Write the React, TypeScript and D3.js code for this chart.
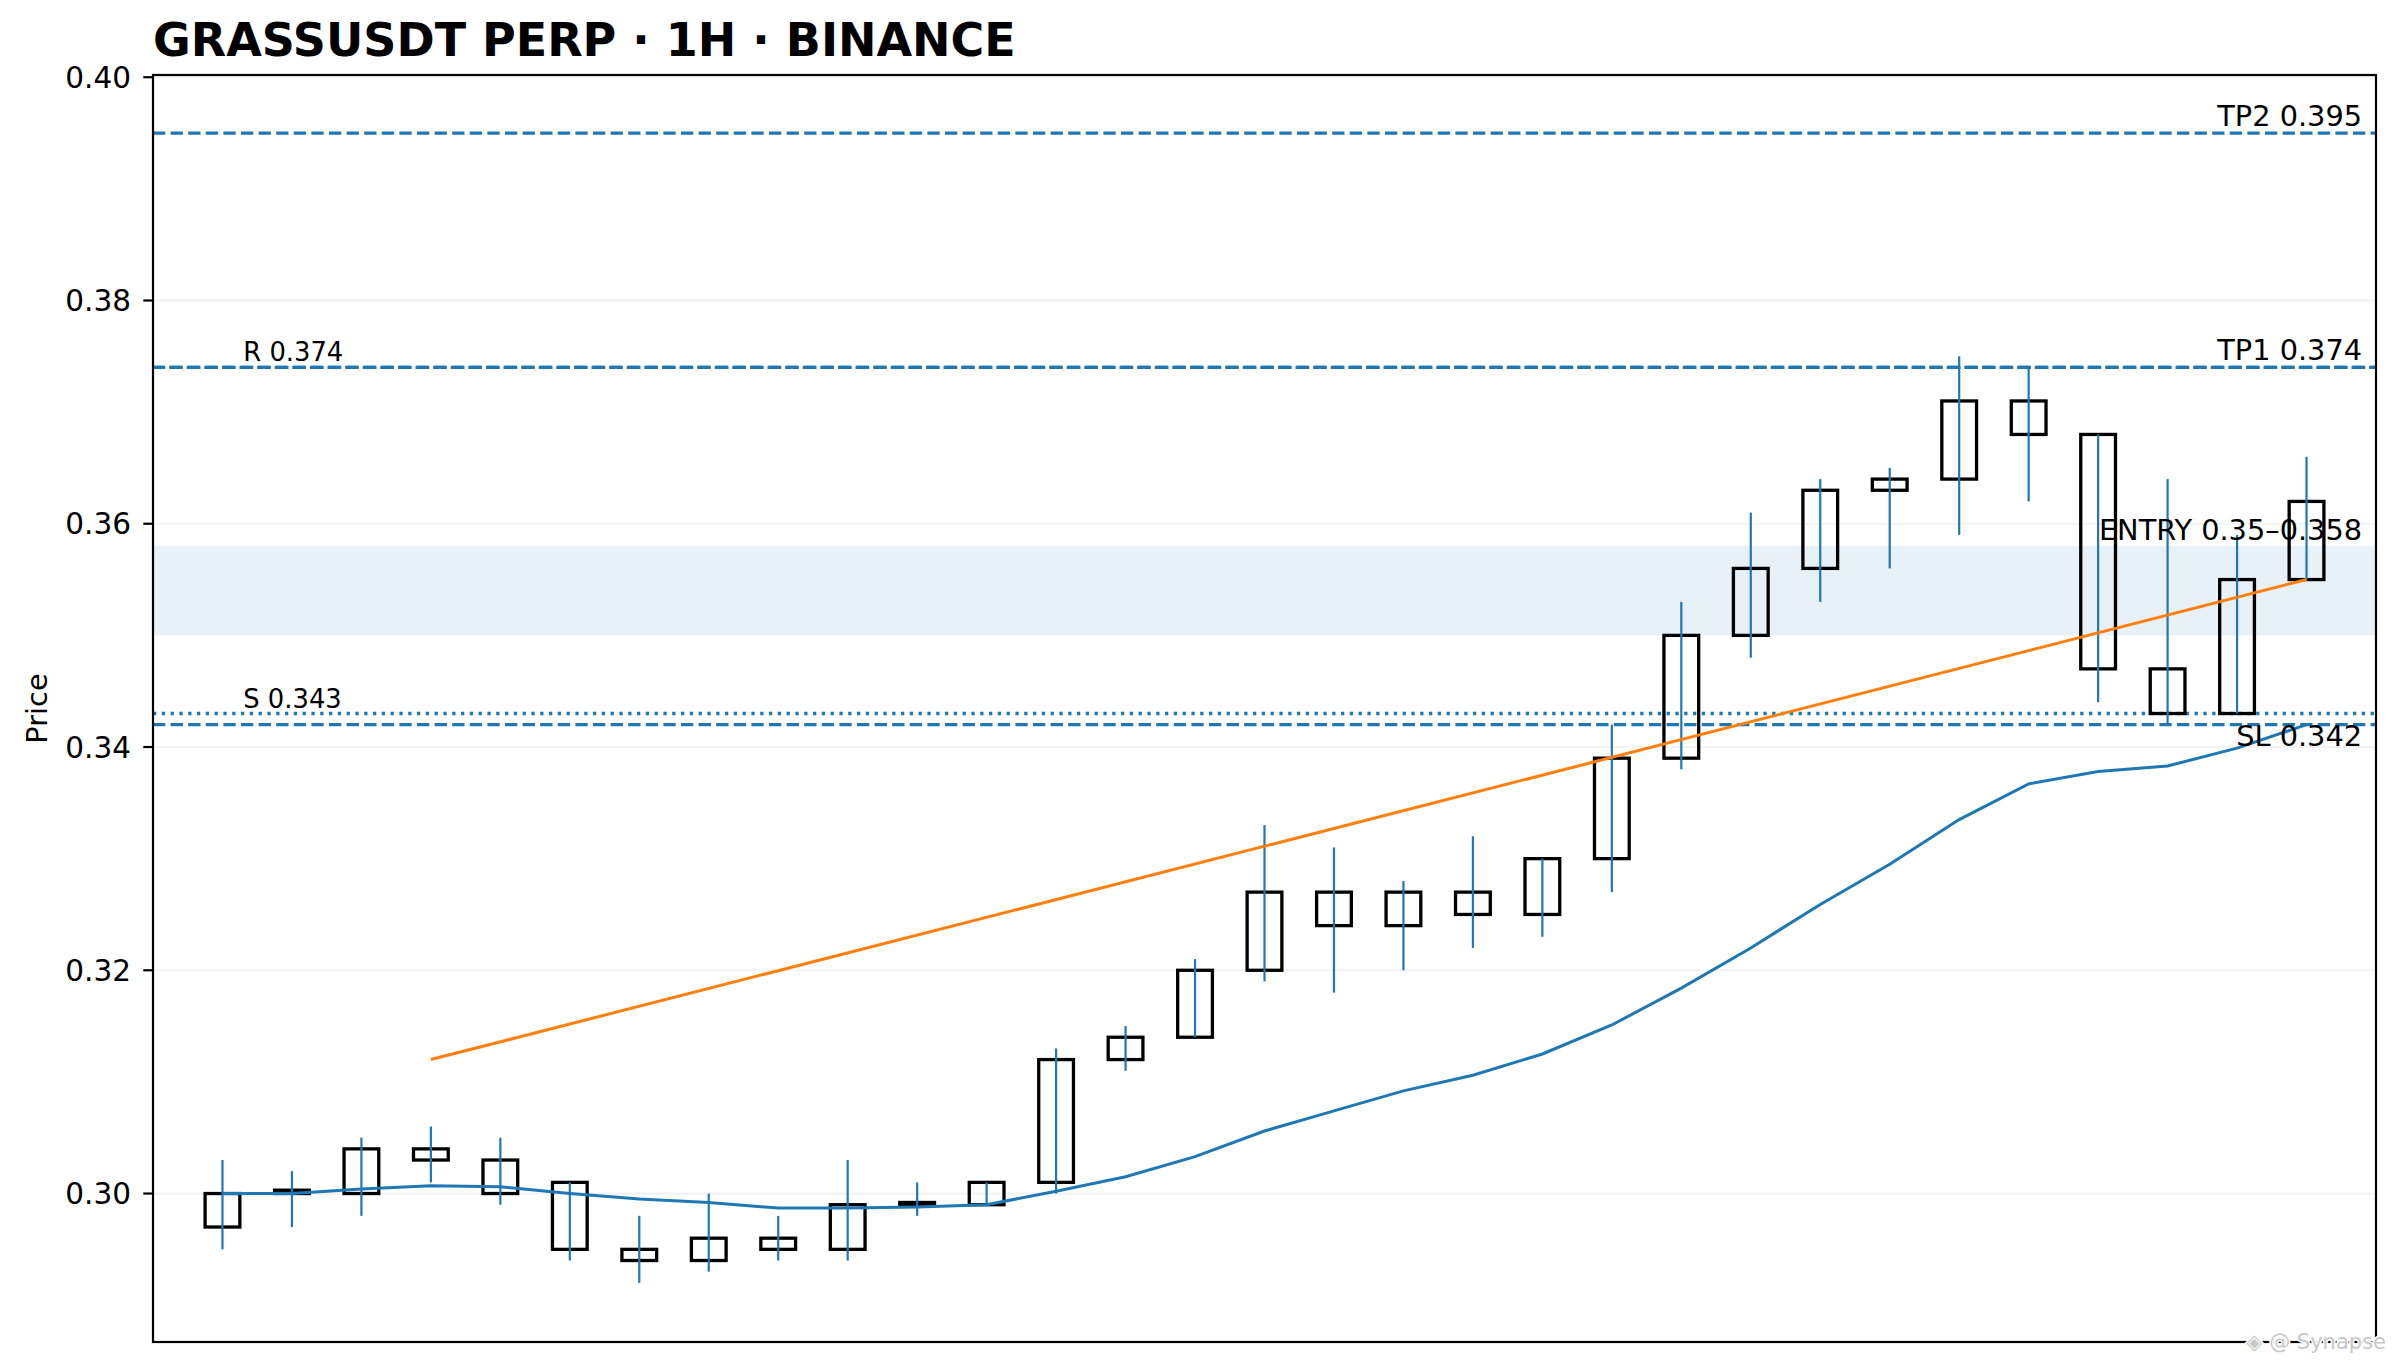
import React, { useEffect } from "react";
import * as d3 from "d3";

// candles, 1H
const opens = [0.297, 0.3, 0.3, 0.304, 0.303, 0.301, 0.295, 0.294, 0.296, 0.295, 0.299, 0.299, 0.301, 0.312, 0.314, 0.32, 0.327, 0.324, 0.327, 0.325, 0.33, 0.339, 0.35, 0.356, 0.363, 0.364, 0.371, 0.368, 0.347, 0.343, 0.355];
const highs = [0.303, 0.302, 0.305, 0.306, 0.305, 0.301, 0.298, 0.3, 0.298, 0.303, 0.301, 0.301, 0.313, 0.315, 0.321, 0.333, 0.331, 0.328, 0.332, 0.33, 0.342, 0.353, 0.361, 0.364, 0.365, 0.375, 0.374, 0.368, 0.364, 0.359, 0.366];
const lows = [0.295, 0.297, 0.298, 0.301, 0.299, 0.294, 0.292, 0.293, 0.294, 0.294, 0.298, 0.299, 0.3, 0.311, 0.314, 0.319, 0.318, 0.32, 0.322, 0.323, 0.327, 0.338, 0.348, 0.353, 0.356, 0.359, 0.362, 0.344, 0.342, 0.343, 0.355];
const closes = [0.3, 0.3003, 0.304, 0.303, 0.3, 0.295, 0.294, 0.296, 0.295, 0.299, 0.2992, 0.301, 0.312, 0.314, 0.32, 0.327, 0.324, 0.327, 0.325, 0.33, 0.339, 0.35, 0.356, 0.363, 0.364, 0.371, 0.368, 0.347, 0.343, 0.355, 0.362];

// moving average (blue)
const maValues = [0.3, 0.3, 0.3004, 0.3007, 0.3006, 0.3, 0.2995, 0.2992, 0.2987, 0.2987, 0.2988, 0.299, 0.3002, 0.3015, 0.3033, 0.3056, 0.3074, 0.3092, 0.3106, 0.3125, 0.3151, 0.3184, 0.322, 0.3259, 0.3295, 0.3335, 0.3367, 0.3378, 0.3383, 0.3399, 0.342];

// trend line (orange): [index, price]
const trendPoints: [number, number][] = [
  [3, 0.312],
  [30, 0.355],
];

// levels
const tp2 = 0.395;
const tp1 = 0.374;
const resistance = 0.374;
const support = 0.343;
const stopLoss = 0.342;
const entryZone = [0.35, 0.358];

const yTicks = [0.3, 0.32, 0.34, 0.36, 0.38, 0.4];
const yLimits = [0.2867, 0.4002];
const xLimits = [-1, 31];

const W = 2397;
const H = 1364;
const margin = { top: 75, right: 21, bottom: 22, left: 153 };
const FONT = "DejaVu Sans, sans-serif";
const BLUE = "#1f77b4";
const ORANGE = "#ff7f0e";
const DASH = "12.3 5.3";
const DOT = "3.3 5.5";

export default function App() {
  useEffect(() => {
    document.body.style.margin = "0";
  }, []);

  const x0 = margin.left;
  const x1 = W - margin.right;
  const y0 = margin.top;
  const y1 = H - margin.bottom;

  const x = d3.scaleLinear().domain(xLimits).range([x0, x1]);
  const y = d3.scaleLinear().domain(yLimits).range([y1, y0]);

  const bodyW = x(0.5) - x(0);
  const idx = opens.map((_, i) => i);

  const maLine = d3
    .line<number>()
    .x((_, i) => x(i))
    .y((d) => y(d));
  const trendLine = d3
    .line<[number, number]>()
    .x((d) => x(d[0]))
    .y((d) => y(d[1]));

  const hline = (v: number, dash: string, offset = 0) => (
    <line
      x1={x0}
      x2={x1}
      y1={y(v)}
      y2={y(v)}
      stroke={BLUE}
      strokeWidth={3.3}
      strokeDasharray={dash}
      strokeDashoffset={offset}
    />
  );

  return (
    <svg
      width={W}
      height={H}
      style={{ position: "absolute", left: 0, top: 0, background: "#fff" }}
      fontFamily={FONT}
    >
      <rect width={W} height={H} fill="#fff" />
      <defs>
        <clipPath id="plot">
          <rect x={x0} y={y0} width={x1 - x0} height={y1 - y0} />
        </clipPath>
      </defs>

      {/* grid */}
      {yTicks.map((t) => (
        <line key={t} x1={x0} x2={x1} y1={y(t)} y2={y(t)} stroke="#b0b0b0" strokeOpacity={0.15} strokeWidth={2.2} />
      ))}

      <g clipPath="url(#plot)">
        {/* entry zone */}
        <rect
          x={x0}
          width={x1 - x0}
          y={y(entryZone[1])}
          height={y(entryZone[0]) - y(entryZone[1])}
          fill={BLUE}
          fillOpacity={0.1}
        />

        {hline(tp2, DASH)}
        {hline(tp1, DASH)}
        {hline(resistance, DASH, 1.5)}
        {hline(support, DOT)}
        {hline(stopLoss, DASH)}

        {/* bodies */}
        {idx.map((i) => {
          const top = Math.max(opens[i], closes[i]);
          const bot = Math.min(opens[i], closes[i]);
          return (
            <rect
              key={"b" + i}
              x={x(i) - bodyW / 2}
              y={y(top)}
              width={bodyW}
              height={Math.max(y(bot) - y(top), 0.5)}
              fill="none"
              stroke="#000"
              strokeWidth={3.3}
            />
          );
        })}
        {/* wicks */}
        {idx.map((i) => (
          <line key={"w" + i} x1={x(i)} x2={x(i)} y1={y(highs[i])} y2={y(lows[i])} stroke={BLUE} strokeWidth={2.2} />
        ))}

        <path d={maLine(maValues) ?? ""} fill="none" stroke={BLUE} strokeWidth={3} />
        <path d={trendLine(trendPoints) ?? ""} fill="none" stroke={ORANGE} strokeWidth={3} />
      </g>

      {/* level labels */}
      <g fontSize={28.8} fill="#000">
        <text x={x(30.8)} y={y(tp2) - 7} textAnchor="end">TP2 0.395</text>
        <text x={x(30.8)} y={y(tp1) - 7} textAnchor="end">TP1 0.374</text>
        <text x={x(30.8)} y={y(entryZone[1]) - 6} textAnchor="end">ENTRY 0.35–0.358</text>
        <text x={x(30.8)} y={y(stopLoss) + 21} textAnchor="end">SL 0.342</text>
      </g>
      <g fontSize={25.8} fill="#000">
        <text x={x(0.3)} y={y(resistance) - 6}>R 0.374</text>
        <text x={x(0.3)} y={y(support) - 6}>S 0.343</text>
      </g>

      {/* frame */}
      <rect x={x0} y={y0} width={x1 - x0} height={y1 - y0} fill="none" stroke="#000" strokeWidth={2.2} />

      {/* y axis */}
      {yTicks.map((t) => (
        <g key={"t" + t}>
          <line x1={x0 - 9.7} x2={x0} y1={y(t)} y2={y(t)} stroke="#000" strokeWidth={2.2} />
          <text x={x0 - 22} y={y(t)} dy="0.36em" textAnchor="end" fontSize={29.5}>
            {t.toFixed(2)}
          </text>
        </g>
      ))}
      <text
        transform={`translate(47,${(y0 + y1) / 2}) rotate(-90)`}
        textAnchor="middle"
        fontSize={28.8}
      >
        Price
      </text>

      {/* title */}
      <text x={x0} y={56} fontSize={46} fontWeight="bold">
        GRASSUSDT PERP · 1H · BINANCE
      </text>

      {/* watermark */}
      <text
        x={2386}
        y={1349}
        textAnchor="end"
        fontSize={21}
        fill="#c8c8c8"
        stroke="#fff"
        strokeWidth={3}
        style={{ paintOrder: "stroke" }}
      >
        ◈ @ Synapse
      </text>
    </svg>
  );
}
